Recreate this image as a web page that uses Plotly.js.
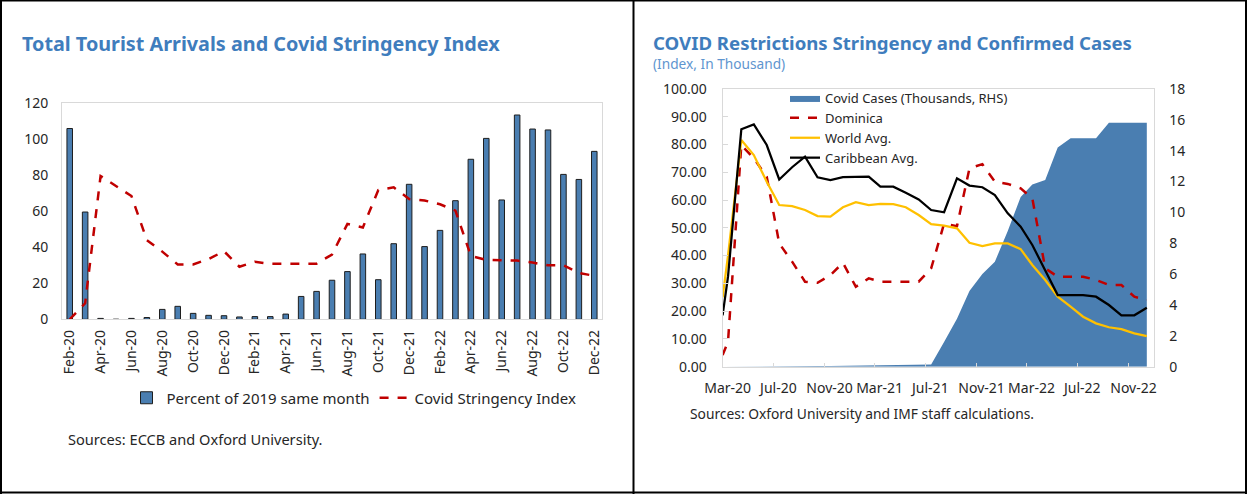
<!DOCTYPE html>
<html>
<head>
<meta charset="utf-8">
<script src="https://cdn.plot.ly/plotly-3.0.1.min.js"></script>
<style>
  html, body { margin: 0; padding: 0; background: #fff; }
  #chart { width: 1247px; height: 494px; }
</style>
</head>
<body>
<div id="chart"></div>
<script>
// ---------- Left panel data ----------
const leftMonths = ['Feb-20','Mar-20','Apr-20','May-20','Jun-20','Jul-20','Aug-20','Sep-20','Oct-20','Nov-20','Dec-20',
  'Jan-21','Feb-21','Mar-21','Apr-21','May-21','Jun-21','Jul-21','Aug-21','Sep-21','Oct-21','Nov-21','Dec-21',
  'Jan-22','Feb-22','Mar-22','Apr-22','May-22','Jun-22','Jul-22','Aug-22','Sep-22','Oct-22','Nov-22','Dec-22'];
const arrivalsPct = [106, 59.6, 0.5, 0, 0.5, 1, 5.5, 7.2, 3.3, 2.2, 2,
  1.3, 1.5, 1.5, 2.9, 12.7, 15.5, 21.7, 26.5, 36.3, 22, 42, 75,
  40.4, 49.4, 65.9, 88.9, 100.5, 66.3, 113.5, 105.7, 105.2, 80.5, 77.7, 93.3];
const stringencyIdx = [0, 8.9, 79.6, 74, 68.5, 44, 37.6, 30.5, 30.5, 33.5, 37.8,
  29.2, 32, 30.8, 30.8, 30.8, 30.9, 36, 53, 51, 71.8, 73.3, 66.8,
  66, 63.9, 60.4, 35.2, 33, 32.8, 32.6, 31.5, 30, 30, 25.7, 24.2];

// ---------- Right panel data ----------
const rightDates = ['2020-03-01','2020-03-14','2020-04-15','2020-05-15','2020-06-15','2020-07-15','2020-08-15','2020-09-15',
  '2020-10-15','2020-11-15','2020-12-15','2021-01-15','2021-02-15','2021-03-15','2021-04-15','2021-05-15','2021-06-15',
  '2021-07-15','2021-08-15','2021-09-15','2021-10-15','2021-11-15','2021-12-15','2022-01-15','2022-02-15','2022-03-15',
  '2022-04-15','2022-05-15','2022-06-15','2022-07-15','2022-08-15','2022-09-15','2022-10-15','2022-11-15','2022-12-15'];
const covidCasesK = [0, 0, 0, 0, 0, 0.01, 0.02, 0.03, 0.04, 0.05, 0.06, 0.08, 0.09, 0.1, 0.11, 0.12, 0.13,
  0.15, 1.6, 3.1, 4.9, 6.0, 6.8, 8.8, 11.0, 11.8, 12.1, 14.2, 14.8, 14.8, 14.8, 15.8, 15.8, 15.8, 15.8];
const dominicaIdx = [4.2, 9, 79.8, 75, 68.4, 44.4, 37.8, 30.6, 30.2, 33, 37.4, 28.8, 31.8, 30.6, 30.6, 30.6, 30.6,
  35.4, 51.5, 50.6, 71.4, 72.9, 66.6, 65.8, 64.2, 60.6, 35.4, 32.4, 32.4, 32.4, 31.2, 29.4, 29.4, 25.2, 24];
const worldAvgIdx = [25, 40, 81.6, 76.2, 66.6, 58.2, 57.8, 56.4, 54.2, 54, 57.4, 59.2, 58.2, 58.6, 58.5, 57.4, 54.6,
  51.3, 50.8, 49.8, 44.6, 43.4, 44.4, 44.4, 42.3, 36.6, 31.2, 25.2, 21.6, 18, 15.6, 14.2, 13.5, 12, 11];
const caribbeanAvgIdx = [18.5, 32.4, 85.5, 87.2, 79.8, 67.4, 71.8, 75.6, 68.2, 67.2, 68.2, 68.4, 68.4, 64.8, 64.8, 62.6, 60.2,
  56.4, 55.6, 67.8, 65.2, 64.6, 61.8, 55.2, 50.4, 43.8, 34.8, 25.8, 25.8, 25.8, 25.2, 22.2, 18.5, 18.5, 21.2];

const W = 1247, H = 494;
const px = v => v / W;
const py = v => 1 - v / H;
const FONT = 'Noto Sans, Open Sans, sans-serif';
const TXT = '#262626';
const BLUE = '#4A7EB1';
const TITLE_BLUE = '#3F7DBD';
const GRID = '#D9D9D9';

const traces = [
  { type: 'bar', x: leftMonths, y: arrivalsPct, name: 'Percent of 2019 same month',
    xaxis: 'x', yaxis: 'y', width: 0.36,
    marker: { color: BLUE, line: { color: '#1E1E1E', width: 1 } }, legend: 'legend' },
  { type: 'scatter', mode: 'lines', x: leftMonths, y: stringencyIdx, name: 'Covid Stringency Index',
    xaxis: 'x', yaxis: 'y', line: { color: '#C00000', width: 2.5, dash: 'dash' }, legend: 'legend' },

  { type: 'scatter', mode: 'lines', x: rightDates, y: covidCasesK, name: 'Covid Cases (Thousands, RHS)',
    xaxis: 'x2', yaxis: 'y2', fill: 'tozeroy', fillcolor: BLUE, line: { color: BLUE, width: 0 }, legend: 'legend2' },
  { type: 'scatter', mode: 'lines', x: rightDates, y: dominicaIdx, name: 'Dominica',
    xaxis: 'x2', yaxis: 'y3', line: { color: '#C00000', width: 2.5, dash: 'dash' }, legend: 'legend2' },
  { type: 'scatter', mode: 'lines', x: rightDates, y: worldAvgIdx, name: 'World Avg.',
    xaxis: 'x2', yaxis: 'y3', line: { color: '#FFC000', width: 2.25 }, legend: 'legend2' },
  { type: 'scatter', mode: 'lines', x: rightDates, y: caribbeanAvgIdx, name: 'Caribbean Avg.',
    xaxis: 'x2', yaxis: 'y3', line: { color: '#000000', width: 2.25 }, legend: 'legend2' }
];

const axFont = { family: FONT, size: 14, color: TXT };

const layout = {
  width: W, height: H,
  margin: { l: 0, r: 0, t: 0, b: 0 },
  paper_bgcolor: '#fff', plot_bgcolor: '#fff',
  font: { family: FONT, size: 14, color: TXT },
  showlegend: true,
  xaxis: {
    domain: [px(62), px(602)], anchor: 'y', type: 'category',
    range: [-0.5, 34.5], tickmode: 'linear', tick0: 0, dtick: 2, tickangle: -90,
    tickfont: axFont, showgrid: false, zeroline: false,
    showline: true, mirror: true, linecolor: GRID, linewidth: 1, ticks: '', ticklabelstandoff: 4
  },
  yaxis: {
    domain: [py(319.3), py(103.3)], anchor: 'x', range: [0, 120], dtick: 20,
    tickfont: axFont, showgrid: false, zeroline: false,
    showline: true, mirror: true, linecolor: GRID, linewidth: 1, ticks: '', ticklabelstandoff: 10
  },
  xaxis2: {
    domain: [px(722.6), px(1154.3)], anchor: 'y2', type: 'date',
    range: ['2020-03-01', '2023-01-02'], tick0: '2020-03-01', dtick: 'M4', tickformat: '%b-%y',
    tickfont: axFont, showgrid: false, zeroline: false,
    showline: true, mirror: true, linecolor: GRID, linewidth: 1,
    ticks: 'inside', ticklen: 4, tickcolor: GRID, ticklabelstandoff: 8, ticklabelshift: 5
  },
  yaxis2: {
    domain: [py(366.7), py(88.9)], anchor: 'x2', side: 'right', range: [0, 18], dtick: 2,
    tickfont: axFont, showgrid: false, zeroline: false, showline: false, ticks: '', ticklabelstandoff: 14
  },
  yaxis3: {
    overlaying: 'y2', side: 'left', anchor: 'x2', range: [0, 100], dtick: 10, tickformat: '.2f',
    tickfont: axFont, showgrid: false, zeroline: false,
    showline: true, mirror: true, linecolor: GRID, linewidth: 1,
    ticks: 'inside', ticklen: 5, tickcolor: GRID, ticklabelstandoff: 12
  },
  legend: {
    orientation: 'h', x: px(354), xanchor: 'center', y: py(398), yanchor: 'middle',
    font: { family: FONT, size: 15, color: TXT }, bgcolor: 'rgba(0,0,0,0)', itemwidth: 30
  },
  legend2: {
    orientation: 'v', x: px(785), xanchor: 'left', y: py(83), yanchor: 'top',
    font: { family: FONT, size: 13, color: TXT }, bgcolor: 'rgba(0,0,0,0)', tracegroupgap: 0
  },
  annotations: [
    { text: '<b>Total Tourist Arrivals and Covid Stringency Index</b>', xref: 'paper', yref: 'paper',
      x: px(20), y: py(44), xanchor: 'left', yanchor: 'middle', showarrow: false,
      font: { family: FONT, size: 19.8, color: TITLE_BLUE } },
    { text: 'Sources: ECCB and Oxford University.', xref: 'paper', yref: 'paper',
      x: px(66), y: py(439), xanchor: 'left', yanchor: 'middle', showarrow: false,
      font: { family: FONT, size: 14.6, color: TXT } },
    { text: '<b>COVID Restrictions Stringency and Confirmed Cases</b>', xref: 'paper', yref: 'paper',
      x: px(651), y: py(42), xanchor: 'left', yanchor: 'middle', showarrow: false,
      font: { family: FONT, size: 18.6, color: TITLE_BLUE } },
    { text: '(Index, In Thousand)', xref: 'paper', yref: 'paper',
      x: px(651), y: py(63), xanchor: 'left', yanchor: 'middle', showarrow: false,
      font: { family: FONT, size: 13.7, color: '#5E95CF' } },
    { text: 'Sources: Oxford University and IMF staff calculations.', xref: 'paper', yref: 'paper',
      x: px(688), y: py(413), xanchor: 'left', yanchor: 'middle', showarrow: false,
      font: { family: FONT, size: 13.8, color: TXT } }
  ],
  shapes: [
    { type: 'line', xref: 'paper', yref: 'paper', x0: 0, x1: 1, y0: py(0.5), y1: py(0.5), line: { color: '#000', width: 2 } },
    { type: 'line', xref: 'paper', yref: 'paper', x0: 0, x1: 1, y0: py(492.5), y1: py(492.5), line: { color: '#000', width: 2 } },
    { type: 'line', xref: 'paper', yref: 'paper', x0: px(1), x1: px(1), y0: 0, y1: 1, line: { color: '#000', width: 2 } },
    { type: 'line', xref: 'paper', yref: 'paper', x0: px(633.5), x1: px(633.5), y0: 0, y1: 1, line: { color: '#000', width: 2 } },
    { type: 'line', xref: 'paper', yref: 'paper', x0: px(1246), x1: px(1246), y0: 0, y1: 1, line: { color: '#000', width: 2 } }
  ]
};

Plotly.newPlot('chart', traces, layout, { staticPlot: true, displayModeBar: false });
</script>
</body>
</html>
